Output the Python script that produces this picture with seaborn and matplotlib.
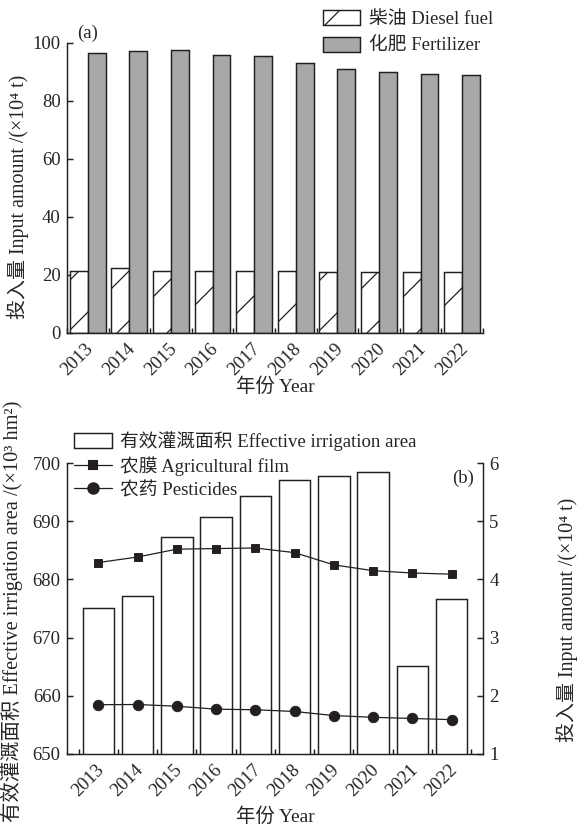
import numpy as np
import pandas as pd
import matplotlib
matplotlib.use("Agg")
import matplotlib.pyplot as plt
import matplotlib.transforms as mtrans
from matplotlib.patches import Patch
from matplotlib.lines import Line2D
from matplotlib.ticker import FixedLocator
import seaborn as sns

# ---------------- data ----------------
years = ["2013", "2014", "2015", "2016", "2017", "2018", "2019", "2020", "2021", "2022"]
diesel = [21.3, 22.3, 21.2, 21.3, 21.3, 21.2, 21.1, 21.1, 21.1, 21.1]
fertilizer = [96.6, 97.2, 97.6, 96.0, 95.4, 93.1, 91.0, 89.9, 89.2, 88.8]
irrigation = [675.1, 677.2, 687.3, 690.7, 694.4, 697.0, 697.8, 698.4, 665.2, 676.6]
film = [4.29, 4.385, 4.52, 4.53, 4.54, 4.46, 4.25, 4.15, 4.11, 4.09]
pesticides = [1.847, 1.85, 1.82, 1.77, 1.76, 1.73, 1.66, 1.63, 1.61, 1.59]

lab_diesel = "柴油 Diesel fuel"
lab_fert = "化肥 Fertilizer"
lab_irr = "有效灌溉面积 Effective irrigation area"
lab_film = "农膜 Agricultural film"
lab_pest = "农药 Pesticides"
yticks_a = [0, 20, 40, 60, 80, 100]
yticks_b = [650, 660, 670, 680, 690, 700]
yticks_b2 = [1, 2, 3, 4, 5, 6]

# ---------------- style ----------------
sns.set_theme(style="white")
plt.rcParams["font.family"] = ["Liberation Serif", "Noto Sans CJK SC", "DejaVu Serif"]
plt.rcParams["font.size"] = 9
plt.rcParams["hatch.color"] = "#231f20"
plt.rcParams["hatch.linewidth"] = 0.6
plt.rcParams["axes.linewidth"] = 0.7

INK = "#231f20"
GRAY = "#a7a8aa"
FS = 9

fig = plt.figure(figsize=(3.9, 5.54), dpi=150)
ax1 = fig.add_axes([0.1145, 0.5993, 0.7111, 0.349])
ax2 = fig.add_axes([0.1145, 0.0927, 0.7111, 0.3501])

n = len(years)
boundaries = np.arange(n + 1) - 0.5

# ---------------- panel (a) ----------------
df_a = pd.DataFrame({
    "year": years * 2,
    "value": diesel + fertilizer,
    "type": [lab_diesel] * n + [lab_fert] * n,
})
sns.barplot(data=df_a, x="year", y="value", hue="type", order=years,
            hue_order=[lab_diesel, lab_fert], palette=["white", GRAY],
            edgecolor=INK, linewidth=0.7, width=0.86, gap=0, ax=ax1,
            legend=False)
for bar in ax1.containers[0]:
    bar.set_hatch("/")

ax1.set_xlim(-0.5, n - 0.5)
ax1.set_ylim(0, 100)
ax1.set_yticks(yticks_a)
ax1.spines["top"].set_visible(False)
ax1.spines["right"].set_visible(False)
for s in ["left", "bottom"]:
    ax1.spines[s].set_color(INK)
ax1.xaxis.set_minor_locator(FixedLocator(boundaries))
ax1.tick_params(axis="y", direction="in", length=3, width=0.7, color=INK,
                labelsize=FS, pad=3, left=True)
ax1.tick_params(axis="x", which="major", length=0, labelsize=FS, pad=6.5)
ax1.tick_params(axis="x", which="minor", direction="in", length=2.5, width=0.7,
                color=INK, bottom=True)
ax1.set_xlabel("年份 Year", fontsize=FS + 0.3)
ax1.set_ylabel("投入量 Input amount /(×10⁴ t)", fontsize=FS + 0.6)
ax1.xaxis.set_label_coords(0.5, -0.152)
ax1.yaxis.set_label_coords(-0.092, 0.47)
ax1.text(0.0, 103.4, "(a)", fontsize=FS, ha="center", va="center", clip_on=False)

leg_a = [Patch(facecolor="white", edgecolor=INK, hatch="/", linewidth=0.7, label=lab_diesel),
         Patch(facecolor=GRAY, edgecolor=INK, linewidth=0.7, label=lab_fert)]
fig.legend(handles=leg_a, loc="upper left", bbox_to_anchor=(0.552, 0.988),
           frameon=False, fontsize=FS, handlelength=2.0, handleheight=0.85,
           handletextpad=0.45, labelspacing=0.46, borderpad=0, borderaxespad=0)

# ---------------- panel (b) ----------------
df_b = pd.DataFrame({"year": years, "irrigation": irrigation,
                     "film": film, "pesticides": pesticides})
sns.barplot(data=df_b, x="year", y="irrigation", order=years, color="white",
            edgecolor=INK, linewidth=0.7, width=0.8, ax=ax2)
for bar in ax2.containers[0]:
    bar.set_facecolor("white")

ax3 = ax2.twinx()
sns.pointplot(data=df_b, x="year", y="film", order=years, ax=ax3, color=INK,
              markers="s", markersize=4.3, linewidth=0.6, errorbar=None)
sns.pointplot(data=df_b, x="year", y="pesticides", order=years, ax=ax3, color=INK,
              markers="o", markersize=5.0, linewidth=0.6, errorbar=None)

ax2.set_xlim(-0.8, n - 0.2)
ax2.set_ylim(650, 700)
ax3.set_ylim(1, 6)
ax2.set_yticks(yticks_b)
ax3.set_yticks(yticks_b2)

ax2.spines["top"].set_visible(False)
ax2.spines["right"].set_visible(False)
ax3.spines["top"].set_visible(False)
ax3.spines["left"].set_visible(False)
ax3.spines["bottom"].set_visible(False)
for s in ["left", "bottom"]:
    ax2.spines[s].set_color(INK)
ax3.spines["right"].set_color(INK)

ax2.xaxis.set_minor_locator(FixedLocator(boundaries))
ax2.tick_params(axis="x", which="major", length=0, labelsize=FS, pad=6.5)
ax2.tick_params(axis="x", which="minor", direction="in", length=2.5, width=0.7,
                color=INK, bottom=True)
ax2.tick_params(axis="y", direction="in", length=3, width=0.7, color=INK,
                labelsize=FS, pad=3, left=True)
ax3.tick_params(axis="y", direction="in", length=3, width=0.7, color=INK,
                labelsize=FS, pad=3, right=True)

ax2.set_xlabel("年份 Year", fontsize=FS + 0.3)
ax2.set_ylabel("有效灌溉面积 Effective irrigation area /(×10³ hm²)", fontsize=FS + 0.8)
ax3.set_ylabel("投入量 Input amount /(×10⁴ t)", fontsize=FS + 0.6)
ax2.xaxis.set_label_coords(0.5, -0.183)
ax2.yaxis.set_label_coords(-0.105, 0.49)
ax3.yaxis.set_label_coords(1.176, 0.46)
ax3.text(9.3, 5.74, "(b)", fontsize=FS, ha="center", va="center")

leg_b = [Patch(facecolor="white", edgecolor=INK, linewidth=0.7, label=lab_irr),
         Line2D([], [], color=INK, lw=0.6, marker="s", markersize=4.3, label=lab_film),
         Line2D([], [], color=INK, lw=0.6, marker="o", markersize=5.0, label=lab_pest)]
fig.legend(handles=leg_b, loc="upper left", bbox_to_anchor=(0.1265, 0.481),
           frameon=False, fontsize=FS, handlelength=2.0, handleheight=0.85,
           handletextpad=0.45, labelspacing=0.28, borderpad=0, borderaxespad=0)

# rotated tick labels
offset = mtrans.ScaledTranslation(3 / 150, 0, fig.dpi_scale_trans)
for ax in (ax1, ax2):
    for lbl in ax.get_xticklabels():
        lbl.set_rotation(45)
        lbl.set_ha("right")
        lbl.set_va("center")
        lbl.set_rotation_mode("anchor")
        lbl.set_transform(lbl.get_transform() + offset)

fig.savefig("out.png", dpi=150)
